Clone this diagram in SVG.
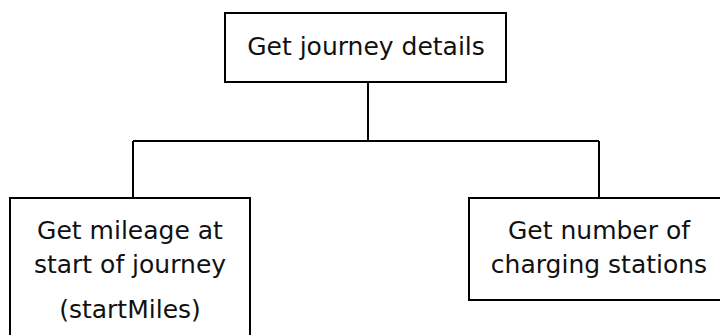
<svg xmlns="http://www.w3.org/2000/svg" width="720" height="335" viewBox="0 0 720 335">
<style>
.box{fill:#fff;stroke:#000;stroke-width:2}
.conn{fill:none;stroke:#000;stroke-width:2}
text{font-family:"DejaVu Sans",sans-serif;font-size:25px;fill:#111;text-anchor:middle}
</style>
<rect width="720" height="335" fill="#fff"/>
<g id="connectors">
<path class="conn" d="M368,82 V141 M133,141 H599 M133,141 V198 M599,141 V198"/>
</g>
<g id="top">
<rect class="box" x="225" y="13" width="281" height="69"/>
<text x="366" y="55">Get journey details</text>
</g>
<g id="left">
<rect class="box" x="10" y="198" width="240" height="150"/>
<text x="130" y="239">Get mileage at</text>
<text x="130" y="273">start of journey</text>
<text x="130" y="318">(startMiles)</text>
</g>
<g id="right">
<rect class="box" x="469" y="198" width="260" height="102"/>
<text x="599" y="239">Get number of</text>
<text x="599" y="273">charging stations</text>
</g>
</svg>
